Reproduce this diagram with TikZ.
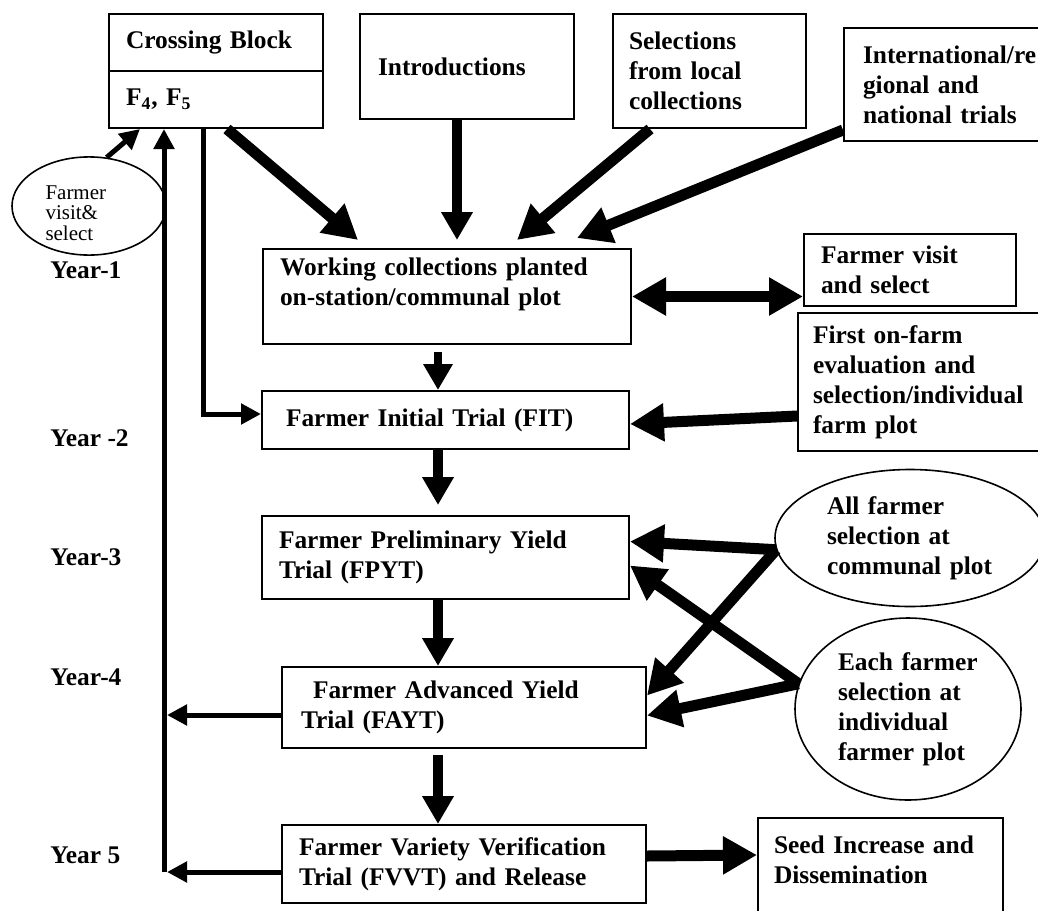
\documentclass[tikz,border=0pt]{standalone}
\usepackage{fontspec}
\setmainfont{Liberation Serif}
\usetikzlibrary{arrows.meta,shapes.geometric,positioning}
\tikzset{
  box/.style={draw, line width=1pt, anchor=north west, align=left, inner ysep=0pt,
    font=\fontsize{12.7}{15}\selectfont\bfseries},
  oval/.style={draw, ellipse, line width=0.8pt, align=left, inner sep=0pt,
    font=\fontsize{12.7}{15}\selectfont\bfseries},
  yr/.style={anchor=west, inner sep=0pt, font=\fontsize{12.7}{15}\selectfont\bfseries},
  fat/.style={line width=5.5pt, >={Triangle[length=17pt,width=18pt]}},
  drop/.style={line width=5pt, >={Triangle[length=14pt,width=15pt]}},
  slim/.style={line width=2.5pt, >={Triangle[length=10pt,width=10pt]}},
}

\begin{document}
\begin{tikzpicture}[x=0.5pt,y=-0.5pt]
\useasboundingbox (0,0) rectangle (1038,910);

% sources
\node[box, minimum width=107pt, minimum height=28.5pt, inner xsep=8.5pt, text width=90pt] (cross) at (108,13) {Crossing Block};
\node[box, minimum width=107pt, minimum height=28.5pt, inner xsep=8.5pt, text width=90pt] (gen) at (108,70) {F\textsubscript{4}, F\textsubscript{5}};
\node[box, minimum width=107pt, minimum height=52.5pt, inner xsep=9pt, text width=89pt] (intro) at (359,13) {Introductions};
\node[box, minimum width=96.5pt, minimum height=57pt, inner xsep=8pt, text width=80.5pt] (sel) at (612,13) {Selections\\from local\\collections};
\node[box, minimum width=108.5pt, minimum height=56.5pt, inner xsep=9.5pt, text width=89.5pt] (intl) at (843,27) {International/re\\gional and\\national trials};
\node[oval, minimum width=77pt, minimum height=49pt, text width=43.5pt, font=\fontsize{10.5}{10.3}\selectfont] (visit) at (89,206) {\rule{0pt}{14pt}Farmer\\visit\&\\select};

% stages
\node[box, minimum width=184pt, minimum height=47.5pt, inner xsep=8.5pt, text width=167pt] (work) at (262,248) {Working collections planted\\on-station/communal plot\\~};
\node[box, minimum width=106pt, minimum height=36pt, inner xsep=8.5pt, text width=89pt] (fvs) at (803,233) {Farmer visit\\and select};
\node[box, minimum width=131.5pt, minimum height=69pt, inner xsep=7.5pt, text width=116.5pt] (first) at (797,312) {First on-farm\\evaluation and\\selection/individual\\farm plot};
\node[box, minimum width=183.5pt, minimum height=29pt, inner xsep=12pt, text width=159.5pt] (fit) at (261,390) {Farmer Initial Trial (FIT)};
\node[box, minimum width=183.5pt, minimum height=41.5pt, inner xsep=8.5pt, text width=166.5pt] (fpyt) at (261,515) {Farmer Preliminary Yield\\Trial (FPYT)};
\node[box, minimum width=182pt, minimum height=40.5pt, inner xsep=9.5pt, text width=163pt] (fayt) at (281,666) {\hspace*{6pt}Farmer Advanced Yield\\Trial (FAYT)};
\node[box, minimum width=182pt, minimum height=39pt, inner xsep=8.5pt, text width=165pt] (fvvt) at (281,824) {Farmer Variety Verification\\Trial (FVVT) and Release};
\node[box, minimum width=122.5pt, minimum height=56.5pt, inner xsep=8pt, text width=106.5pt] (seed) at (757,817) {Seed Increase and\\Dissemination\\~};

\node[oval, minimum width=135pt, minimum height=68.5pt, text width=83pt] (allf) at (910,538) {All farmer\\selection at\\communal plot};
\node[oval, minimum width=113pt, minimum height=91pt, text width=70pt] (eachf) at (908,709) {Each farmer\\selection at\\individual\\farmer plot};

% years
\node[yr] (y1) at (50,270) {Year-1};
\node[yr] (y2) at (50,438) {Year -2};
\node[yr] (y3) at (50,557) {Year-3};
\node[yr] (y4) at (50,677) {Year-4};
\node[yr] (y5) at (50,855) {Year 5};

% feedback line
\coordinate (j4) at (167,715);
\coordinate (j5) at (164,872);
\draw[slim,->] (j5) -- ([xshift=28pt]gen.south west);
\draw[slim,->] (fayt.west |- j4) -- (j4);
\draw[slim,->] (fvvt.west |- j5) -- ([xshift=1.5pt]j5);
\draw[slim,->] ([xshift=47.5pt]gen.south west) |- ([yshift=3pt]fit.west);
\draw[slim,->] (visit.70) -- ([xshift=16pt]gen.south west);

% into working collections
\draw[fat,->] ([xshift=59.5pt]gen.south west) -- ([xshift=48pt,yshift=4pt]work.north west);
\draw[drop,->] ([xshift=49pt]intro.south west) -- ([xshift=97.5pt,yshift=4pt]work.north west);
\draw[fat,->] ([xshift=19pt]sel.south west) -- ([xshift=127.5pt,yshift=4pt]work.north west);
\draw[fat,->] ([yshift=6pt]intl.south west) -- ([xshift=157.5pt,yshift=5pt]work.north west);
\draw[fat,<->] (work.east) -- (fvs.west |- work.east);

% down the trials
\draw[line width=4pt, -{Triangle[length=13pt,width=14pt]}] ([xshift=-4.5pt,yshift=-3.5pt]work.south) -- ([xshift=-3.75pt]fit.north);
\draw[fat,->] ([yshift=-17pt]first.west) -- ([yshift=-2pt]fit.east);
\draw[drop,->] ([xshift=-3.75pt]fit.south) -- ([xshift=-3.75pt,yshift=5pt]fpyt.north);
\draw[drop,->] ([xshift=-3.75pt]fpyt.south) -- ([xshift=-13pt]fayt.north);
\draw[drop,->] ([xshift=-13pt,yshift=-3pt]fayt.south) -- ([xshift=-13pt]fvvt.north);
\draw[fat,->] ([yshift=4pt]fvvt.east) -- ([yshift=-19pt]seed.north west);

% farmer selections
\draw[fat,->] (allf.185) -- ([yshift=8pt]fpyt.east);
\draw[fat,->] (allf.185) -- ([yshift=6pt]fayt.east);
\draw[fat,->] (eachf.167) -- ([yshift=-4pt]fpyt.east);
\draw[fat,->] (eachf.167) -- ([yshift=-4pt]fayt.east);
\end{tikzpicture}
\end{document}
